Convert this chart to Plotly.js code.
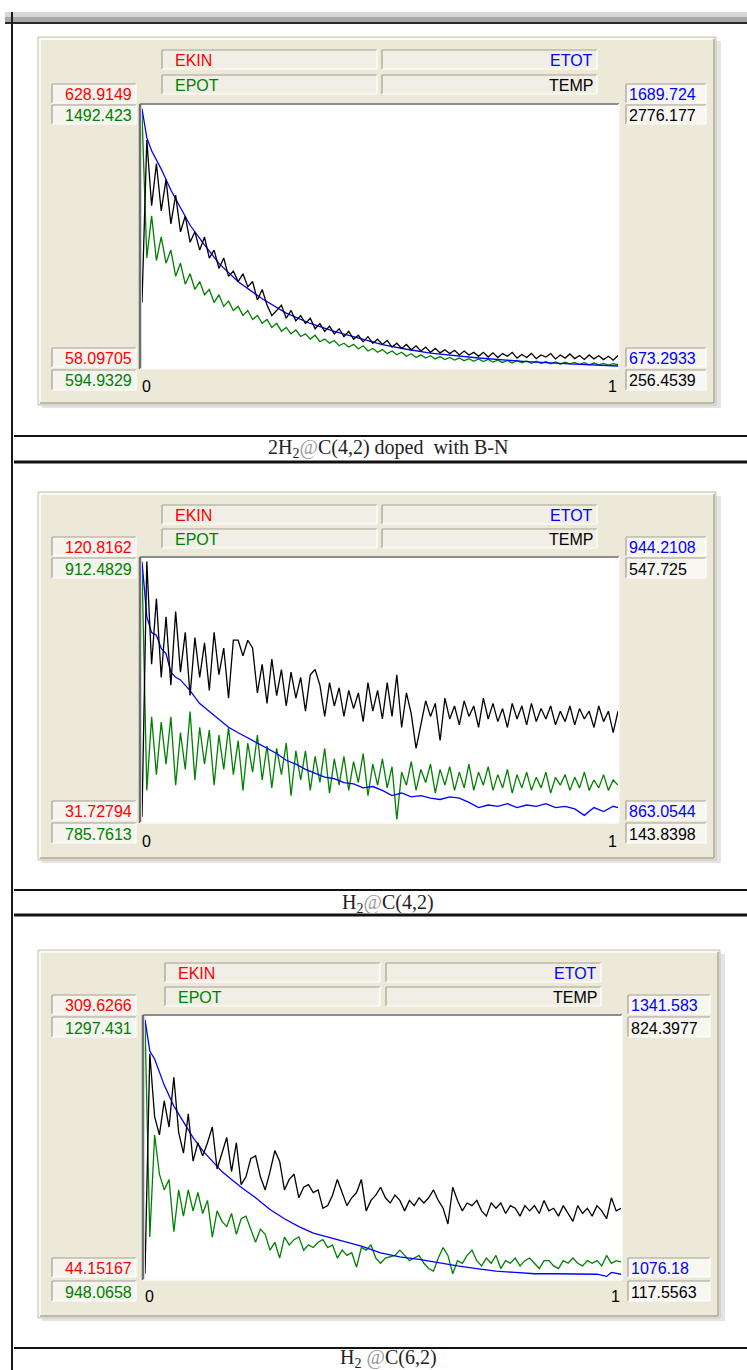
<!DOCTYPE html>
<html>
<head>
<meta charset="utf-8">
<script src="https://cdn.plot.ly/plotly-3.0.1.min.js"></script>
<style>html,body{margin:0;padding:0;background:#fff;}#chart{width:747px;height:1370px;}</style>
</head>
<body>
<div id="chart"></div>
<script>
// ---------------- DATA ----------------
const SERIES = ['EKIN', 'ETOT', 'EPOT', 'TEMP'];
const X_TICKS = ['0', '1'];
const CAPTIONS = [
  '2H<sub>2</sub><span style="color:#9a9a9a">@</span>C(4,2) doped  with B-N',
  'H<sub>2</sub><span style="color:#9a9a9a">@</span>C(4,2)',
  'H<sub>2</sub> <span style="color:#9a9a9a">@</span>C(6,2)'
];
// scale labels [bottom, top]
const P1_EKIN_RANGE = ['58.09705', '628.9149'];
const P1_EPOT_RANGE = ['594.9329', '1492.423'];
const P1_ETOT_RANGE = ['673.2933', '1689.724'];
const P1_TEMP_RANGE = ['256.4539', '2776.177'];
const P2_EKIN_RANGE = ['31.72794', '120.8162'];
const P2_EPOT_RANGE = ['785.7613', '912.4829'];
const P2_ETOT_RANGE = ['863.0544', '944.2108'];
const P2_TEMP_RANGE = ['143.8398', '547.725'];
const P3_EKIN_RANGE = ['44.15167', '309.6266'];
const P3_EPOT_RANGE = ['948.0658', '1297.431'];
const P3_ETOT_RANGE = ['1076.18', '1341.583'];
const P3_TEMP_RANGE = ['117.5563', '824.3977'];

// Panel 1 : 2H2@C(4,2) doped with B-N
const P1_TEMP = [886, 2448, 1818, 2222, 1768, 2070, 1642, 1919, 1566, 1718,
  1466, 1566, 1390, 1516, 1314, 1390, 1214, 1314, 1138, 1188,
  1088, 1163, 1037, 1088, 911, 1012, 861, 760, 810, 861,
  735, 810, 710, 760, 684, 735, 634, 684, 609, 659,
  584, 634, 558, 609, 533, 571, 508, 558, 495, 533,
  483, 521, 458, 495, 445, 483, 432, 470, 420, 458,
  407, 445, 402, 432, 395, 427, 382, 420, 382, 407,
  369, 407, 362, 402, 357, 395, 369, 407, 352, 387,
  357, 397, 347, 382, 362, 395, 344, 382, 352, 392,
  347, 377, 339, 382, 344, 374, 337, 369, 332, 377];
const P1_EPOT = [1466, 972, 1116, 963, 1044, 954, 999, 909, 954, 882,
  918, 864, 891, 846, 864, 819, 846, 806, 824, 792,
  806, 775, 792, 761, 775, 748, 761, 734, 748, 721,
  734, 712, 725, 703, 712, 694, 707, 685, 694, 680,
  689, 671, 680, 667, 676, 660, 671, 653, 662, 649,
  658, 644, 653, 640, 649, 635, 644, 631, 640, 629,
  637, 626, 634, 624, 631, 622, 629, 620, 627, 618,
  626, 617, 624, 615, 622, 614, 621, 612, 620, 613,
  619, 611, 618, 610, 617, 609, 616, 608, 615, 609,
  614, 607, 613, 606, 612, 606, 611, 605, 610, 606];
const P1_ETOT_STEP = [0, 1, 2, 4, 6, 8, 10, 13, 16, 20, 25, 30, 35, 40, 45, 50, 55, 60, 70, 80, 90, 99];
const P1_ETOT = [1679, 1567, 1516, 1445, 1364, 1293, 1227, 1151, 1079, 1008, 942, 886, 846, 815, 790, 764, 746, 731, 712, 698, 688, 681];

// Panel 2 : H2@C(4,2)
const P2_TEMP = [152, 544, 386, 487, 366, 459, 354, 467, 374, 435,
  338, 427, 366, 419, 346, 435, 370, 411, 334, 423,
  423, 399, 423, 411, 342, 386, 326, 394, 338, 378,
  322, 374, 334, 366, 314, 370, 378, 354, 306, 358,
  322, 350, 306, 346, 318, 342, 298, 358, 314, 346,
  302, 358, 306, 370, 289, 342, 310, 257, 293, 330,
  306, 326, 269, 334, 302, 322, 293, 330, 306, 322,
  289, 334, 302, 326, 298, 318, 289, 326, 302, 322,
  293, 326, 298, 318, 302, 322, 293, 314, 298, 322,
  293, 318, 302, 314, 289, 322, 298, 314, 281, 314];
const P2_EPOT = [908.7, 801.0, 836.4, 808.6, 833.9, 813.6, 836.4, 803.5, 828.8, 811.1,
  839.0, 806.0, 831.4, 813.6, 830.1, 803.5, 827.6, 811.1, 831.4, 808.6,
  825.0, 801.0, 823.8, 809.8, 827.6, 806.0, 822.5, 802.2, 821.2, 808.6,
  823.8, 798.4, 820.0, 806.0, 820.0, 801.0, 817.4, 804.8, 821.2, 799.7,
  816.2, 803.5, 817.4, 801.0, 814.9, 804.8, 818.7, 798.4, 813.6, 803.5,
  816.2, 802.2, 812.4, 787.0, 809.8, 803.5, 814.9, 801.0, 811.1, 804.8,
  813.6, 799.7, 811.1, 803.5, 812.4, 801.0, 809.8, 802.2, 813.6, 801.0,
  809.8, 803.5, 812.4, 801.0, 808.6, 802.2, 811.1, 799.7, 808.6, 802.2,
  809.8, 801.0, 807.3, 802.2, 809.8, 799.7, 807.3, 803.5, 808.6, 801.0,
  807.3, 802.2, 809.8, 801.0, 806.0, 802.2, 808.6, 801.0, 806.0, 803.5];
const P2_ETOT_STEP = [0, 1, 2, 3, 4, 5, 6, 7, 8, 10, 12, 14, 16, 18, 20, 22, 24, 26, 28, 30,
  32, 34, 36, 38, 40, 42, 44, 46, 48, 50, 52, 54, 56, 58, 60, 62, 64, 66, 68, 70,
  72, 74, 76, 78, 80, 82, 84, 86, 88, 90, 92, 94, 96, 98, 99];
const P2_ETOT = [943.4, 926.4, 921.5, 920.7, 916.6, 915.0, 909.3, 907.7, 906.9, 903.6,
  899.6, 897.1, 894.7, 892.3, 890.6, 889.0, 887.4, 885.8, 884.2, 882.1,
  880.9, 879.3, 878.1, 876.9, 876.4, 875.2, 874.8, 873.6, 874.0, 872.8,
  871.2, 872.0, 870.8, 871.2, 870.4, 870.0, 870.8, 870.4, 869.1, 867.5,
  868.3, 867.9, 868.7, 867.5, 868.3, 867.9, 868.7, 867.5, 867.9, 867.1,
  865.1, 867.5, 866.3, 867.9, 867.5];

// Panel 3 : H2@C(6,2)
const P3_TEMP = [131.7, 725.4, 555.8, 506.3, 598.2, 527.5, 661.8, 513.4, 456.9, 562.9,
  435.6, 485.1, 449.8, 485.1, 527.5, 414.4, 456.9, 499.2, 407.4, 485.1,
  372.0, 393.2, 442.7, 449.8, 393.2, 357.9, 407.4, 463.9, 435.6, 357.9,
  386.2, 400.3, 336.7, 365.0, 372.0, 350.8, 357.9, 308.4, 315.5, 343.7,
  386.2, 350.8, 315.5, 336.7, 350.8, 386.2, 301.3, 329.6, 343.7, 365.0,
  336.7, 322.5, 343.7, 329.6, 301.3, 329.6, 315.5, 336.7, 322.5, 336.7,
  357.9, 329.6, 308.4, 266.0, 365.0, 329.6, 301.3, 322.5, 315.5, 329.6,
  301.3, 287.2, 322.5, 308.4, 322.5, 294.3, 315.5, 308.4, 287.2, 315.5,
  301.3, 315.5, 294.3, 329.6, 301.3, 308.4, 287.2, 315.5, 294.3, 273.1,
  315.5, 294.3, 308.4, 287.2, 315.5, 301.3, 280.1, 336.7, 301.3, 308.4];
const P3_EPOT = [1290.5, 1004.0, 1140.2, 1087.8, 1066.9, 1080.8, 1011.0, 1066.9, 1031.9, 1066.9,
  1038.9, 1063.4, 1035.4, 1052.9, 1004.0, 1038.9, 1024.9, 1017.9, 1035.4, 1007.5,
  1028.4, 1031.9, 1014.5, 997.0, 1014.5, 1007.5, 986.5, 997.0, 976.0, 1004.0,
  993.5, 1000.5, 1004.0, 986.5, 993.5, 990.0, 997.0, 1000.5, 990.0, 993.5,
  976.0, 986.5, 979.5, 983.0, 963.8, 990.0, 986.5, 993.5, 976.0, 969.0,
  976.0, 977.8, 979.5, 986.5, 979.5, 972.5, 976.0, 979.5, 969.0, 962.0,
  958.5, 976.0, 990.0, 979.5, 955.1, 972.5, 969.0, 979.5, 986.5, 972.5,
  965.5, 976.0, 969.0, 979.5, 962.0, 972.5, 969.0, 976.0, 965.5, 972.5,
  976.0, 969.0, 962.0, 972.5, 972.5, 965.5, 962.0, 972.5, 969.0, 976.0,
  969.0, 965.5, 972.5, 969.0, 972.5, 965.5, 979.5, 969.0, 972.5, 970.8];
const P3_ETOT_STEP = [0, 1, 2, 3, 4, 6, 8, 10, 12, 14, 16, 18, 20, 23, 26, 29, 32, 35, 38, 41,
  45, 49, 53, 57, 61, 65, 69, 73, 77, 81, 85, 90, 94, 96, 97, 99];
const P3_ETOT = [1338.9, 1307.1, 1299.1, 1285.9, 1272.6, 1251.3, 1235.4, 1219.5, 1206.2, 1195.6,
  1185.0, 1177.0, 1169.1, 1158.5, 1146.5, 1137.2, 1129.3, 1122.6, 1118.6, 1114.7,
  1109.4, 1102.7, 1098.7, 1096.1, 1092.6, 1089.5, 1086.8, 1084.1, 1082.8, 1081.5,
  1081.5, 1081.0, 1081.0, 1078.8, 1082.8, 1081.0];

// ---------------- LAYOUT ----------------
const W = 747, H = 1370;
const px = x => x / W, py = y => 1 - y / H;
const COLORS = {EKIN: '#ff0000', ETOT: '#0000ff', EPOT: '#008000', TEMP: '#000000'};
const FONT = 'Liberation Sans, Arial, sans-serif';
const SERIF = 'Liberation Serif, Times New Roman, serif';
const FS = 16;

const panels = [
  {box: [38, 37, 716, 405], plot: [140, 104, 619, 369], legRows: [[50, 69], [75, 94]], legCols: [[162, 377], [382, 597]],
   lblL: [52, 136], lblR: [626, 706], upRows: [[84, 103], [105, 124]], lowRows: [[348, 367], [370, 390]], tickY: 387,
   capLines: [436, 462], capY: 448,
   ekin: P1_EKIN_RANGE, epot: P1_EPOT_RANGE, etot: P1_ETOT_RANGE, temp: P1_TEMP_RANGE,
   T: P1_TEMP, P: P1_EPOT, ES: P1_ETOT_STEP, E: P1_ETOT},
  {box: [38, 492, 716, 860], plot: [140, 557, 619, 823], legRows: [[505, 524], [529, 548]], legCols: [[162, 377], [382, 597]],
   lblL: [52, 136], lblR: [626, 706], upRows: [[537, 556], [558, 578]], lowRows: [[801, 820], [823, 843]], tickY: 841,
   capLines: [890, 915], capY: 903,
   ekin: P2_EKIN_RANGE, epot: P2_EPOT_RANGE, etot: P2_ETOT_RANGE, temp: P2_TEMP_RANGE,
   T: P2_TEMP, P: P2_EPOT, ES: P2_ETOT_STEP, E: P2_ETOT},
  {box: [38, 950, 720, 1318], plot: [143, 1015, 622, 1280], legRows: [[963, 982], [987, 1006]], legCols: [[165, 380], [386, 601]],
   lblL: [52, 136], lblR: [628, 710], upRows: [[995, 1014], [1017, 1037]], lowRows: [[1258, 1277], [1281, 1301]], tickY: 1296,
   capLines: [1348], capY: 1358,
   ekin: P3_EKIN_RANGE, epot: P3_EPOT_RANGE, etot: P3_ETOT_RANGE, temp: P3_TEMP_RANGE,
   T: P3_TEMP, P: P3_EPOT, ES: P3_ETOT_STEP, E: P3_ETOT}
];

const shapes = [], annotations = [], traces = [];
function rect(x0, y0, x1, y1, fill, lc, lw) {
  shapes.push({type: 'rect', xref: 'paper', yref: 'paper', x0: px(x0), x1: px(x1), y0: py(y1), y1: py(y0),
    fillcolor: fill, line: {color: lc || 'rgba(0,0,0,0)', width: lw || 0}, layer: 'below'});
}
function seg(x0, y0, x1, y1, color, w) {
  shapes.push({type: 'line', xref: 'paper', yref: 'paper', x0: px(x0), x1: px(x1), y0: py(y0), y1: py(y1),
    line: {color: color, width: w}, layer: 'below'});
}
function sunken(x0, y0, x1, y1, fill, dark, light) {
  rect(x0, y0, x1, y1, fill);
  seg(x0, y0, x1, y0, dark, 1.2); seg(x0, y0, x0, y1, dark, 1.2);
  seg(x0, y1, x1, y1, light, 1.2); seg(x1, y0, x1, y1, light, 1.2);
}
function txt(x, y, s, color, anchor, size, family) {
  annotations.push({xref: 'paper', yref: 'paper', x: px(x), y: py(y), text: s, showarrow: false,
    xanchor: anchor, yanchor: 'middle', borderpad: 0, font: {family: family || FONT, size: size || FS, color: color}});
}

// top window bar and left border
rect(5, 12, 747, 17, '#d6d6d6');
rect(5, 17, 747, 22, '#a9a9a9');
seg(5, 23, 747, 23, '#2a2a2a', 2);
seg(12, 12, 12, 1370, '#1a1a1a', 2);

const layout = {
  width: W, height: H, margin: {l: 0, r: 0, t: 0, b: 0},
  paper_bgcolor: '#ffffff', plot_bgcolor: 'rgba(0,0,0,0)', showlegend: false,
  shapes: shapes, annotations: annotations
};

panels.forEach((p, k) => {
  const [bx0, by0, bx1, by1] = p.box;
  // panel box (raised)
  rect(bx0 + 4, by0 + 4, bx1 + 5, by1 + 3, '#e4e4e4');
  rect(bx0, by0, bx1, by1, '#ece9d8', '#c9c5b3', 1);
  seg(bx0 + 2, by0 + 2, bx1 - 2, by0 + 2, '#ffffff', 1.5);
  seg(bx0 + 2, by0 + 2, bx0 + 2, by1 - 2, '#ffffff', 1.5);
  seg(bx0 + 2, by1 - 2, bx1 - 2, by1 - 2, '#aca899', 1.5);
  seg(bx1 - 2, by0 + 2, bx1 - 2, by1 - 2, '#aca899', 1.5);
  // legend boxes
  const legNames = [[SERIES[0], SERIES[1]], [SERIES[2], SERIES[3]]];
  p.legRows.forEach((r, ri) => {
    p.legCols.forEach((c, ci) => {
      sunken(c[0], r[0], c[1], r[1], '#f1efe5', '#a3a093', '#ffffff');
      const name = legNames[ri][ci];
      if (ci === 0) txt(c[0] + 12, (r[0] + r[1]) / 2 + 1, name, COLORS[name], 'left');
      else txt(c[1] - 3, (r[0] + r[1]) / 2 + 1, name, COLORS[name], 'right');
    });
  });
  // value label boxes
  const leftUp = [[p.ekin[1], COLORS.EKIN], [p.epot[1], COLORS.EPOT]];
  const leftLow = [[p.ekin[0], COLORS.EKIN], [p.epot[0], COLORS.EPOT]];
  const rightUp = [[p.etot[1], COLORS.ETOT], [p.temp[1], COLORS.TEMP]];
  const rightLow = [[p.etot[0], COLORS.ETOT], [p.temp[0], COLORS.TEMP]];
  [[p.upRows, leftUp, rightUp], [p.lowRows, leftLow, rightLow]].forEach(([rows, L, R]) => {
    rows.forEach((r, i) => {
      sunken(p.lblL[0], r[0], p.lblL[1], r[1], '#f5f4ee', '#a3a093', '#ffffff');
      txt(p.lblL[1] - 3, (r[0] + r[1]) / 2 + 1, L[i][0], L[i][1], 'right');
      sunken(p.lblR[0], r[0], p.lblR[1], r[1], '#f7f6f1', '#a3a093', '#ffffff');
      txt(p.lblR[0] + 2, (r[0] + r[1]) / 2 + 1, R[i][0], R[i][1], 'left');
    });
  });
  // plot area
  const [qx0, qy0, qx1, qy1] = p.plot;
  rect(qx0, qy0, qx1, qy1, '#ffffff');
  seg(qx0, qy0, qx1, qy0, '#8c8c8c', 2);
  seg(qx0, qy0, qx0, qy1, '#6e6e6e', 2.5);
  seg(qx0, qy1, qx1, qy1, '#fbfbf7', 1.5);
  seg(qx1, qy0, qx1, qy1, '#fbfbf7', 1.5);
  txt(qx0 + 1, p.tickY, X_TICKS[0], '#000', 'left');
  txt(qx1 - 1, p.tickY, X_TICKS[1], '#000', 'right');
  // captions
  p.capLines.forEach((y, i) => seg(14, y, 747, y, '#111111', i === 0 ? 2 : 3));
  txt(388, p.capY, CAPTIONS[k], '#222', 'center', 20, SERIF);

  // axes
  const xn = k === 0 ? 'x' : 'x' + (k + 1);
  const xk = k === 0 ? 'xaxis' : 'xaxis' + (k + 1);
  const b = 3 * k + 1;
  const yn = i => (i === 1 ? 'y' : 'y' + i);
  const yk = i => (i === 1 ? 'yaxis' : 'yaxis' + i);
  const dom = [py(qy1 - 1), py(qy0 + 2)];
  const hidden = {visible: false, showgrid: false, zeroline: false, showticklabels: false, fixedrange: true};
  layout[xk] = Object.assign({domain: [px(qx0 + 2), px(qx1 - 1)], range: [0, 99], anchor: yn(b)}, hidden);
  const ranges = [p.epot, p.etot, p.temp].map(r => [parseFloat(r[0]), parseFloat(r[1])]);
  ranges.forEach((r, j) => {
    const ax = Object.assign({domain: dom, range: r, anchor: xn}, hidden);
    if (j > 0) ax.overlaying = yn(b);
    layout[yk(b + j)] = ax;
  });
  traces.push({y: p.P, xaxis: xn, yaxis: yn(b), mode: 'lines', line: {color: COLORS.EPOT, width: 1.3}, hoverinfo: 'skip'});
  traces.push({x: p.ES, y: p.E, xaxis: xn, yaxis: yn(b + 1), mode: 'lines', line: {color: COLORS.ETOT, width: 1.3}, hoverinfo: 'skip'});
  traces.push({y: p.T, xaxis: xn, yaxis: yn(b + 2), mode: 'lines', line: {color: COLORS.TEMP, width: 1.3}, hoverinfo: 'skip'});
});

Plotly.newPlot('chart', traces, layout, {staticPlot: true, displayModeBar: false});
</script>
</body>
</html>
